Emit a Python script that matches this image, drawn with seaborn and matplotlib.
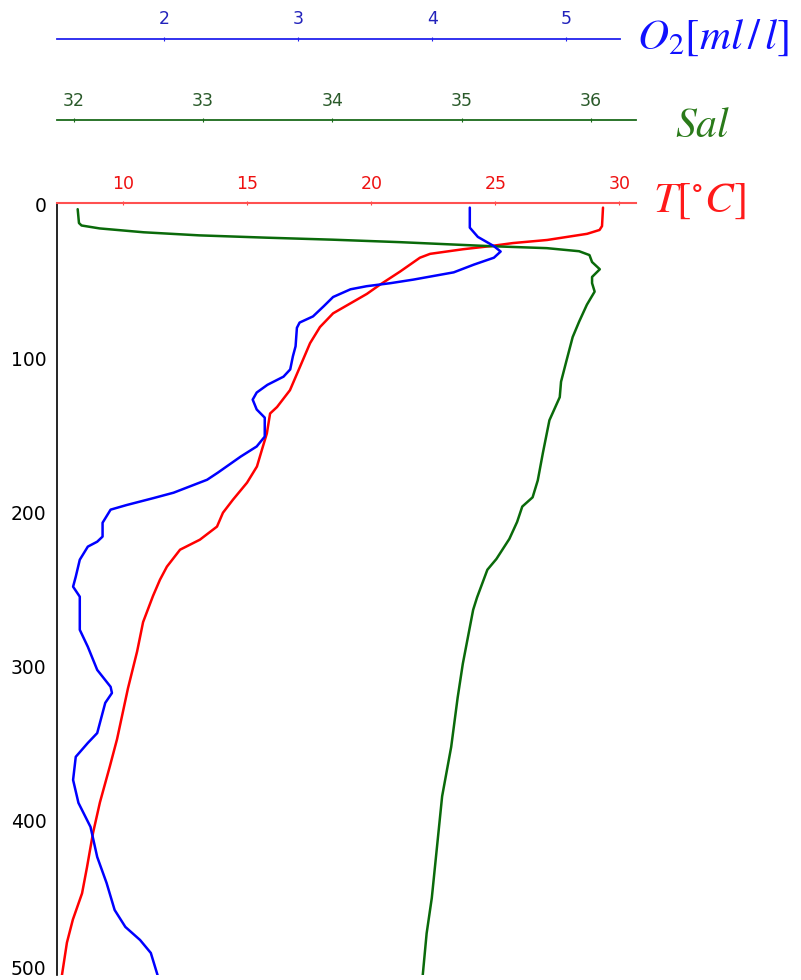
import matplotlib
matplotlib.use("Agg")
import matplotlib.pyplot as plt
import matplotlib.transforms as mtransforms
import seaborn as sns

sns.set_style("white")
plt.rcParams['font.family'] = ['DejaVu Sans']
plt.rcParams['mathtext.fontset'] = 'stix'

# temperature profile (deg C) vs depth (m)
temp_depth = [2, 14, 16.5, 19, 23, 25, 27, 29, 32, 34.5, 43.5, 52, 58, 70.6, 79.5, 90,
              105.5, 120.5, 131.4, 135.6, 148.5, 157, 170, 180.5, 191.6, 200, 209,
              217.5, 224, 235, 243.5, 254, 271, 290, 314, 329, 347, 364.6, 388, 408,
              430, 447, 464, 479, 500]
temp = [29.34, 29.30, 29.2, 28.70, 27.09, 25.71, 24.79, 23.70, 22.37, 21.96, 21.16,
        20.35, 19.82, 18.46, 17.93, 17.53, 17.12, 16.72, 16.2, 15.92, 15.79, 15.63,
        15.39, 14.99, 14.42, 14.02, 13.78, 13.09, 12.29, 11.76, 11.48, 11.2, 10.8,
        10.56, 10.19, 9.99, 9.75, 9.46, 9.06, 8.78, 8.54, 8.34, 7.97, 7.73, 7.53]

# salinity profile
sal_depth = [3, 12, 13.6, 15.5, 18, 20, 21.5, 22.8, 24.4, 27, 28.3, 30.3, 32.8, 37.3,
             42, 47, 51, 56.5, 65, 76, 86, 102, 115, 125, 140, 161, 179, 190, 196,
             206, 217, 230, 237, 255, 263, 298, 320, 352, 384, 417, 450, 473, 500]
sal = [32.03, 32.04, 32.06, 32.2, 32.54, 32.97, 33.49, 34.0, 34.52, 35.22, 35.66,
       35.91, 35.99, 36.01, 36.07, 36.01, 36.01, 36.03, 35.97, 35.91, 35.86, 35.81,
       35.77, 35.76, 35.68, 35.63, 35.59, 35.55, 35.47, 35.43, 35.37, 35.27, 35.20,
       35.12, 35.09, 35.01, 34.97, 34.92, 34.85, 34.81, 34.77, 34.73, 34.70]

# dissolved oxygen profile (ml/l)
o2_depth = [2, 15, 21, 27, 30.5, 34.5, 39, 44, 48.7, 51, 53, 55, 60, 66, 72.6, 76.6,
            80, 92, 98.5, 107, 111.7, 117, 122, 126.6, 133, 138.3, 150.6, 157, 163.6,
            174, 178.6, 187, 190.5, 195, 198, 206.5, 215.5, 218.8, 222, 230.5, 241.5,
            248, 254.5, 265, 276, 287, 302, 313, 317, 323.4, 343, 349.4, 358.4,
            373.4, 388.3, 403.9, 423.4, 440.3, 457.8, 468.8, 477.3, 485.7, 500]
o2 = [4.28, 4.28, 4.34, 4.46, 4.51, 4.46, 4.31, 4.16, 3.86, 3.69, 3.51, 3.39, 3.26,
      3.19, 3.11, 3.01, 2.99, 2.98, 2.96, 2.94, 2.89, 2.77, 2.69, 2.66, 2.69, 2.75,
      2.75, 2.69, 2.57, 2.40, 2.32, 2.07, 1.92, 1.72, 1.60, 1.54, 1.54, 1.50, 1.43,
      1.37, 1.34, 1.32, 1.37, 1.37, 1.37, 1.43, 1.50, 1.60, 1.61, 1.56, 1.50, 1.43,
      1.34, 1.32, 1.36, 1.45, 1.50, 1.57, 1.63, 1.71, 1.82, 1.90, 1.95]

depth_ticks = [0, 100, 200, 300, 400, 500]
temp_ticks = [10, 15, 20, 25, 30]
sal_ticks = [32, 33, 34, 35, 36]
o2_ticks = [2, 3, 4, 5]

RED, GREEN, BLUE = "#ff0000", "#0a6a0a", "#0000ff"

fig = plt.figure(figsize=(8.01, 9.8), dpi=100)
ax = fig.add_axes([57 / 801, 5 / 980, (636 - 57) / 801, (975 - 203) / 980])
ax_sal = ax.twiny()
ax_o2 = ax.twiny()

sns.lineplot(x=temp, y=temp_depth, orient="y", sort=False, estimator=None,
             color=RED, linewidth=1.8, ax=ax)
sns.lineplot(x=sal, y=sal_depth, orient="y", sort=False, estimator=None,
             color=GREEN, linewidth=1.8, ax=ax_sal)
sns.lineplot(x=o2, y=o2_depth, orient="y", sort=False, estimator=None,
             color=BLUE, linewidth=1.8, ax=ax_o2)
for a in (ax, ax_sal, ax_o2):
    for ln in a.lines:
        ln.set_solid_joinstyle("round")
        ln.set_solid_capstyle("round")

ax.set_ylim(500, -1)
ax.set_xlim(7.33, 30.67)
ax_sal.set_xlim(31.87, 36.35)
ax_o2.set_xlim(1.20, 5.52)

# depth axis
ax.set_yticks(depth_ticks)
ax.tick_params(axis="y", direction="out", length=3.5, width=1, colors="black",
               labelsize=13.5, pad=4)
ax.spines["left"].set_color("black")
ax.spines["left"].set_linewidth(1.2)
for s in ["right", "bottom"]:
    ax.spines[s].set_visible(False)
# lift the bottom label so it stays inside the figure
fig.canvas.draw()
last = ax.get_yticklabels()[-1]
last.set_transform(last.get_transform() +
                   mtransforms.ScaledTranslation(0, 8 / 100, fig.dpi_scale_trans))

# temperature axis (top of main axes)
ax.xaxis.set_ticks_position("top")
ax.set_xticks(temp_ticks)
ax.tick_params(axis="x", direction="inout", length=3, width=0.8, colors="#ff4040",
               labelcolor="#ee1111", labelsize=12.5, pad=6)
ax.spines["top"].set_color("#ff5050")
ax.spines["top"].set_linewidth(1.5)

# stacked top axes for salinity and oxygen
for a, col, lab, ticks, off in [(ax_sal, "#1a6a1a", "#2a5a2a", sal_ticks, 59.8),
                                (ax_o2, "#2222ee", "#2222bb", o2_ticks, 118.3)]:
    for s in ["left", "right", "bottom"]:
        a.spines[s].set_visible(False)
    a.spines["top"].set_position(("outward", off))
    a.spines["top"].set_color(col)
    a.spines["top"].set_linewidth(1.3)
    a.set_xticks(ticks)
    a.tick_params(axis="x", direction="inout", length=3, width=0.8, colors=col,
                  labelcolor=lab, labelsize=12.5, pad=6)
    a.set_xlabel("")
    a.set_ylabel("")
ax_o2.spines["top"].set_bounds(1.20, 5.40)
ax.set_xlabel("")
ax.set_ylabel("")

fig.text(637 / 801, 1 - 37 / 980, r"$O_2[ml\,/\,l]$", color="#1010ff", fontsize=31,
         ha="left", va="center")
fig.text(675 / 801, 1 - 125 / 980, r"$Sal$", color="#2a7a1a", fontsize=30,
         ha="left", va="center")
fig.text(653 / 801, 1 - 200 / 980, r"$T[^{\circ}C]$", color="#ff1a1a", fontsize=31,
         ha="left", va="center")

fig.savefig("out.png", dpi=100)
